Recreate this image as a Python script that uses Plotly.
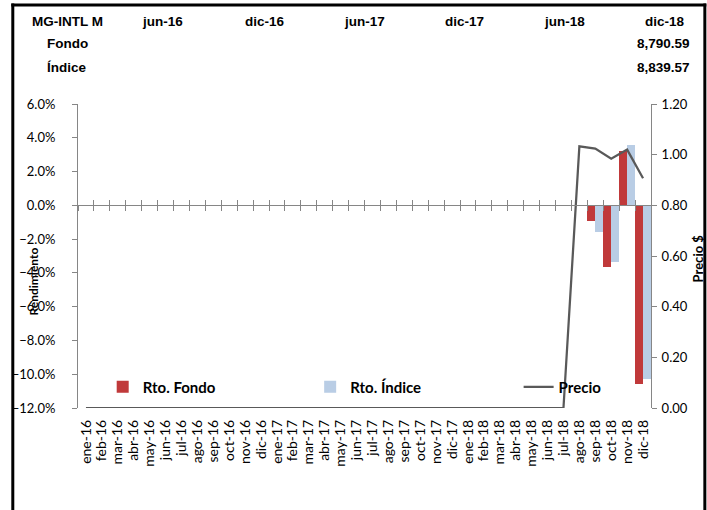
import plotly.graph_objects as go

# ---------------- data ----------------
months = ["ene-16", "feb-16", "mar-16", "abr-16", "may-16", "jun-16", "jul-16", "ago-16",
          "sep-16", "oct-16", "nov-16", "dic-16", "ene-17", "feb-17", "mar-17", "abr-17",
          "may-17", "jun-17", "jul-17", "ago-17", "sep-17", "oct-17", "nov-17", "dic-17",
          "ene-18", "feb-18", "mar-18", "abr-18", "may-18", "jun-18", "jul-18", "ago-18",
          "sep-18", "oct-18", "nov-18", "dic-18"]

rto_fondo = [None] * 32 + [-0.93, -3.65, 3.20, -10.60]
rto_indice = [None] * 32 + [-1.58, -3.35, 3.60, -10.30]
precio = [0.0] * 31 + [1.033, 1.024, 0.984, 1.020, 0.907]

header_title = "MG-INTL M"
header_cols = ["jun-16", "dic-16", "jun-17", "dic-17", "jun-18", "dic-18"]
row_labels = ["Fondo", "Índice"]
fondo_row = ["", "", "", "", "", "8,790.59"]
indice_row = ["", "", "", "", "", "8,839.57"]

# ---------------- layout geometry ----------------
W, H = 707, 510
L, R, T, B = 71, 651, 104, 408
PW, PH = R - L, B - T


def px(x):
    return (x - L) / PW


def py(y):
    return (B - y) / PH


RED = "#C0393A"
BLUE = "#B9CDE5"
LINE = "#595959"
AXIS = "#868686"
TICKFONT = dict(family="Lato", size=13, color="#000000")
HFONT = dict(family="Liberation Sans", size=13.5, color="#000000")
LEGFONT = dict(family="Lato", size=15, color="#000000")

fig = go.Figure()

fig.add_trace(go.Bar(x=months, y=rto_fondo, name="<b>Rto. Fondo</b>", legend="legend",
                     marker=dict(color=RED, line=dict(width=0)), xaxis="x", yaxis="y"))
fig.add_trace(go.Bar(x=months, y=rto_indice, name="<b>Rto. Índice</b>", legend="legend2",
                     marker=dict(color=BLUE, line=dict(width=0)), xaxis="x", yaxis="y"))
fig.add_trace(go.Scatter(x=months, y=precio, name="<b>Precio</b>", mode="lines", legend="legend3",
                         line=dict(color=LINE, width=2.25), xaxis="x", yaxis="y2"))

# invisible helpers so the crossing-tick axes at 0% get categories
for ax in ("x2", "x3"):
    fig.add_trace(go.Scatter(x=months, y=[None] * len(months), mode="lines",
                             showlegend=False, hoverinfo="skip", xaxis=ax, yaxis="y"))

zero_pos = 12 / 18


def leg(xpix):
    return dict(orientation="h", x=px(xpix), xanchor="left", y=py(387), yanchor="middle",
                font=LEGFONT, bgcolor="rgba(0,0,0,0)", borderwidth=0)


fig.update_layout(
    width=W, height=H,
    margin=dict(l=L, r=W - R, t=T, b=H - B, pad=0),
    paper_bgcolor="white", plot_bgcolor="white",
    barmode="group", bargap=0.0, bargroupgap=0.0,
    showlegend=True,
    legend=leg(96), legend2=leg(306), legend3=leg(517),
    xaxis=dict(type="category", categoryarray=months, categoryorder="array",
               range=[-0.5, len(months) - 0.5], showgrid=False, zeroline=False,
               showline=False, ticks="", tickangle=-90, tickmode="array",
               tickvals=months, ticktext=months,
               tickfont=dict(family="Lato", size=14, color="#000000"),
               ticklabelstandoff=8, anchor="y", side="bottom"),
    xaxis2=dict(type="category", categoryarray=months, categoryorder="array",
                range=[-0.5, len(months) - 0.5], overlaying="x", anchor="free",
                position=zero_pos, side="bottom", showline=True, linecolor=AXIS,
                linewidth=1, ticks="outside", tickson="boundaries", ticklen=5,
                tickcolor=AXIS, showticklabels=False, showgrid=False, zeroline=False,
                layer="above traces"),
    xaxis3=dict(type="category", categoryarray=months, categoryorder="array",
                range=[-0.5, len(months) - 0.5], overlaying="x", anchor="free",
                position=zero_pos, side="bottom", showline=False,
                ticks="inside", tickson="boundaries", ticklen=5,
                tickcolor=AXIS, showticklabels=False, showgrid=False, zeroline=False,
                layer="above traces"),
    yaxis=dict(range=[-12, 6], dtick=2, tick0=0, tickformat=".1f", ticksuffix="%",
               showgrid=False, zeroline=False, showline=True, linecolor=AXIS,
               ticks="outside", ticklen=5, tickcolor=AXIS, tickfont=TICKFONT,
               ticklabelstandoff=14, anchor="x", side="left"),
    yaxis2=dict(range=[0, 1.2], dtick=0.2, tick0=0, tickformat=".2f",
                showgrid=False, zeroline=False, showline=True, linecolor=AXIS,
                ticks="outside", ticklen=5, tickcolor=AXIS, tickfont=TICKFONT,
                ticklabelstandoff=2, overlaying="y", side="right", anchor="x"),
)

ann = []
# axis titles
ann.append(dict(text="<b>Rendimiento</b>", x=px(25), y=py(282), xref="paper", yref="paper",
                xanchor="center", yanchor="middle",
                textangle=-90, showarrow=False, font=dict(family="Lato", size=12, color="#000")))
ann.append(dict(text="<b>Precio $</b>", x=px(699), y=py(258), xref="paper", yref="paper",
                xanchor="center", yanchor="middle",
                textangle=-90, showarrow=False, font=dict(family="Lato", size=13, color="#000")))

# header table
ann.append(dict(text="<b>" + header_title + "</b>", x=px(22), y=py(21), xref="paper",
                yref="paper", xanchor="left", yanchor="middle", showarrow=False, font=HFONT))
col_x = [157, 260, 361, 462, 563, 665]
for cx, lab in zip(col_x, header_cols):
    ann.append(dict(text="<b>" + lab + "</b>", x=px(cx), y=py(21), xref="paper", yref="paper",
                    xanchor="center", yanchor="middle", showarrow=False, font=HFONT))
row_y = [44, 67]
for ry, lab, vals in zip(row_y, row_labels, [fondo_row, indice_row]):
    ann.append(dict(text="<b>" + lab + "</b>", x=px(38), y=py(ry), xref="paper", yref="paper",
                    xanchor="left", yanchor="middle", showarrow=False, font=HFONT))
    for cx, v in zip(col_x, vals):
        if v:
            ann.append(dict(text="<b>" + v + "</b>", x=px(693), y=py(ry), xref="paper",
                            yref="paper", xanchor="right", yanchor="middle", showarrow=False,
                            font=HFONT))
fig.update_layout(annotations=ann)

# outer frame (top, left, right edges; bottom lies below the picture)
frame = dict(xref="paper", yref="paper", line=dict(color="black", width=3), layer="above")
fig.add_shape(type="line", x0=px(3.5), x1=px(707), y0=py(5), y1=py(5), **frame)
fig.add_shape(type="line", x0=px(5), x1=px(5), y0=py(3.5), y1=py(520), **frame)
fig.add_shape(type="line", x0=px(705.5), x1=px(705.5), y0=py(3.5), y1=py(520), **frame)

# the page is photographed at exactly the figure size: drop the browser's default margin/scrollbars
fig.write_html(
    "out.html",
    config={"displayModeBar": False},
    post_script=("document.body.style.margin='0';"
                 "document.body.style.overflow='hidden';"
                 "document.documentElement.style.overflow='hidden';"),
)
